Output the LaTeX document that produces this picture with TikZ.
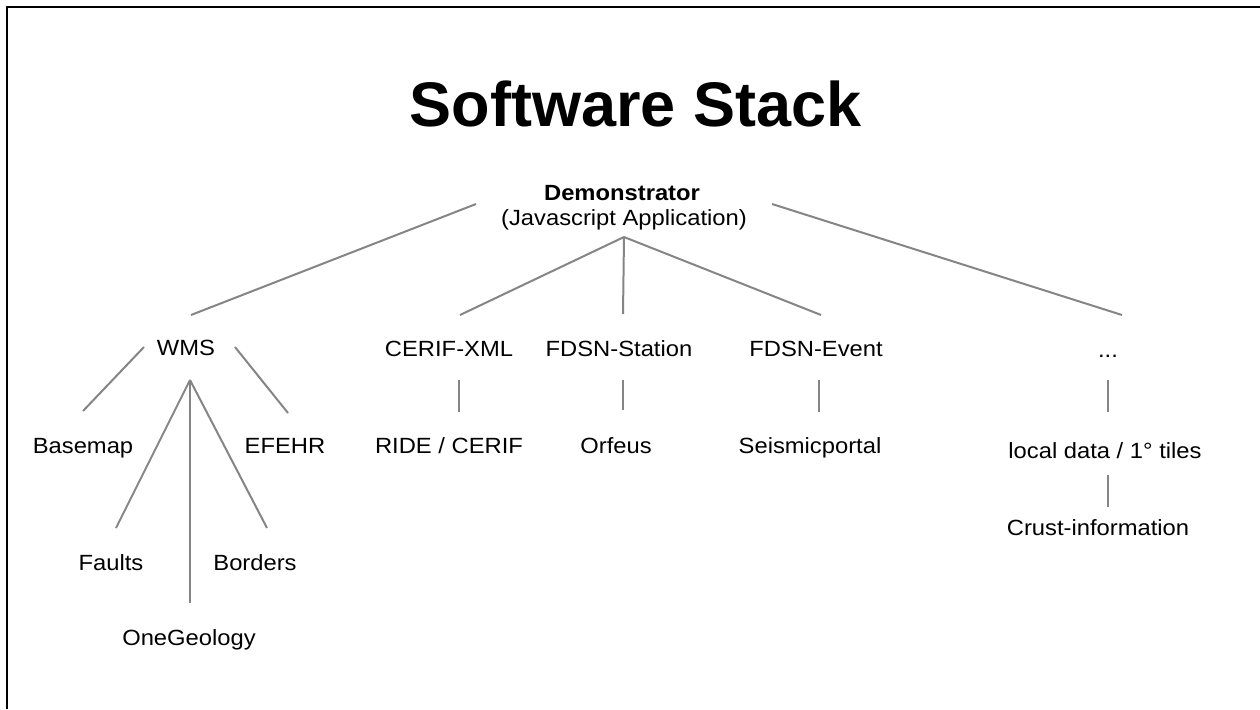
\documentclass[tikz,border=0pt]{standalone}
\usepackage{fontspec}
\setmainfont{Liberation Sans}
\newfontfamily\labelfont[FakeStretch=1.08]{Liberation Sans}
\begin{document}
\begin{tikzpicture}[x=1pt,y=-1pt,
  lbl/.style={anchor=base,inner sep=0pt,font=\labelfont\fontsize{22}{26}\selectfont},
  conn/.style={draw=black!48,line width=2pt}]
\useasboundingbox (0,0) rectangle (1260,709);
% frame (right and bottom sides are outside the picture)
\draw[line width=2.2pt] (7,709) -- (7,7) -- (1260,7);
% texts
\node[anchor=base,inner sep=0pt,font=\bfseries\fontsize{63}{70}\selectfont] (title) at (635.5,126) {Software Stack};
\node[lbl,font=\labelfont\bfseries\fontsize{22}{26}\selectfont] (demo) at (622,200) {Demonstrator};
\node[lbl] (js) at (624,225) {(Javascript Application)};
\node[lbl] (wms) at (186,355) {WMS};
\node[lbl] (cerif) at (449,356) {CERIF-XML};
\node[lbl] (station) at (619,356) {FDSN-Station};
\node[lbl] (event) at (816,356) {FDSN-Event};
\node[lbl] (dots) at (1108,357) {...};
\node[lbl] (basemap) at (83,453) {Basemap};
\node[lbl] (efehr) at (285,453) {EFEHR};
\node[lbl] (ride) at (449,453) {RIDE / CERIF};
\node[lbl] (orfeus) at (616,453) {Orfeus};
\node[lbl] (seismic) at (810,453) {Seismicportal};
\node[lbl] (local) at (1105,458) {local data / 1° tiles};
\node[lbl] (crust) at (1098,535) {Crust-information};
\node[lbl] (faults) at (111,570) {Faults};
\node[lbl] (borders) at (255,570) {Borders};
\node[lbl] (onegeo) at (189,645) {OneGeology};
% connector end points
\coordinate (demoL) at (476,204);
\coordinate (demoR) at (772,204);
\coordinate (demoB) at (624,237);
\coordinate (wmsT) at (191,315);
\coordinate (cerifT) at (460,315);
\coordinate (stationT) at (623,314);
\coordinate (eventT) at (821,315);
\coordinate (dotsT) at (1122,315);
\coordinate (wmsL) at (144,347);
\coordinate (wmsR) at (235,347);
\coordinate (wmsB) at (190,380);
\coordinate (basemapT) at (83,411);
\coordinate (efehrT) at (288,413);
\coordinate (faultsT) at (116,528);
\coordinate (bordersT) at (267,528);
\coordinate (onegeoT) at (190,603);
\coordinate (cerifB) at (459,380);
\coordinate (rideT) at (459,412);
\coordinate (stationB) at (623,380);
\coordinate (orfeusT) at (623,410);
\coordinate (eventB) at (819,380);
\coordinate (seismicT) at (819,412);
\coordinate (dotsB) at (1108,380);
\coordinate (localT) at (1108,412);
\coordinate (localB) at (1108,475);
\coordinate (crustT) at (1108,507);
% connectors
\draw[conn] (demoL) -- (wmsT);
\draw[conn] (demoB) -- (cerifT);
\draw[conn] (demoB) -- (stationT);
\draw[conn] (demoB) -- (eventT);
\draw[conn] (demoR) -- (dotsT);
\draw[conn] (wmsL) -- (basemapT);
\draw[conn] (wmsR) -- (efehrT);
\draw[conn] (wmsB) -- (faultsT);
\draw[conn] (wmsB) -- (onegeoT);
\draw[conn] (wmsB) -- (bordersT);
\draw[conn] (cerifB) -- (rideT);
\draw[conn] (stationB) -- (orfeusT);
\draw[conn] (eventB) -- (seismicT);
\draw[conn] (dotsB) -- (localT);
\draw[conn] (localB) -- (crustT);
\end{tikzpicture}
\end{document}
